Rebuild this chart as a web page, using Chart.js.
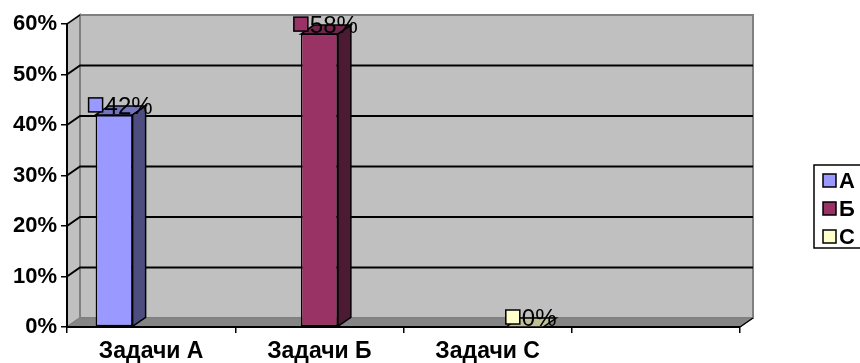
<!DOCTYPE html>
<html>
<head>
<meta charset="utf-8">
<script src="https://cdn.jsdelivr.net/npm/chart.js@4"></script>
<style>
  html, body { margin: 0; padding: 0; background: #fff; }
</style>
</head>
<body>
<canvas id="Graphic" width="860" height="363"></canvas>
<script>
// categories (4th slot is empty in the original)
const categories = ['Задачи А', 'Задачи Б', 'Задачи С', ''];
const seriesNames = ['А', 'Б', 'С'];
// percent values, one series per task group
const valuesA = [42, null, null, null];
const valuesB = [null, 58, null, null];
const valuesC = [null, null, 0, null];
const yTicks = [0, 10, 20, 30, 40, 50, 60];

const fronts = ['#9999FF', '#993366', '#FFFFCC'];
const tops = ['#7373BF', '#73264D', '#BFBF99'];
const sides = ['#4D4D80', '#4D1A33', '#80806A'];
const FONT = 'Liberation Sans, Arial, sans-serif';
const DX = 13, DY = -9;

function poly(ctx, pts, fill, stroke, lw) {
    ctx.beginPath();
    ctx.moveTo(pts[0][0], pts[0][1]);
    for (let i = 1; i < pts.length; i++) ctx.lineTo(pts[i][0], pts[i][1]);
    ctx.closePath();
    if (fill) { ctx.fillStyle = fill; ctx.fill(); }
    if (stroke) { ctx.strokeStyle = stroke; ctx.lineWidth = lw || 1; ctx.stroke(); }
}

const walls = {
    id: 'walls',
    beforeDraw(chart) {
        const ctx = chart.ctx;
        const a = chart.chartArea;
        const y = chart.scales.y;
        ctx.save();
        // back wall
        poly(ctx, [[a.left + DX, a.top + DY], [a.right + DX, a.top + DY], [a.right + DX, a.bottom + DY], [a.left + DX, a.bottom + DY]], '#C0C0C0', '#808080', 2);
        // side wall
        poly(ctx, [[a.left, a.top], [a.left + DX, a.top + DY], [a.left + DX, a.bottom + DY], [a.left, a.bottom]], '#C0C0C0', '#808080', 2);
        // floor
        poly(ctx, [[a.left, a.bottom], [a.left + DX, a.bottom + DY], [a.right + DX, a.bottom + DY], [a.right, a.bottom]], '#858585', '#808080', 1);
        // gridlines on the walls
        ctx.strokeStyle = '#000';
        ctx.lineWidth = 2;
        yTicks.forEach(v => {
            if (v === 0 || v === 60) return;
            const py = y.getPixelForValue(v);
            ctx.beginPath();
            ctx.moveTo(a.left, py);
            ctx.lineTo(a.left + DX, py + DY);
            ctx.lineTo(a.right + DX, py + DY);
            ctx.stroke();
        });
        ctx.lineWidth = 1.5;
        ctx.beginPath();
        ctx.moveTo(a.left, a.top);
        ctx.lineTo(a.left + DX, a.top + DY);
        ctx.moveTo(a.right, a.bottom);
        ctx.lineTo(a.right + DX, a.bottom + DY);
        ctx.stroke();
        ctx.restore();
    },
    afterDatasetsDraw(chart) {
        const ctx = chart.ctx;
        ctx.save();
        chart.data.datasets.forEach((ds, di) => {
            const meta = chart.getDatasetMeta(di);
            meta.data.forEach((bar, i) => {
                if (ds.data[i] === null) return;
                const l = bar.x - bar.width / 2, r = bar.x + bar.width / 2;
                poly(ctx, [[l, bar.y], [l + DX, bar.y + DY], [r + DX, bar.y + DY], [r, bar.y]], tops[di], '#000', 1.5);
                if (bar.base - bar.y > 0.5) {
                    poly(ctx, [[r, bar.y], [r + DX, bar.y + DY], [r + DX, bar.base + DY], [r, bar.base]], sides[di], '#000', 1.5);
                }
            });
        });
        ctx.restore();
    },
    afterDraw(chart) {
        const ctx = chart.ctx;
        ctx.save();
        // data labels with legend keys
        ctx.font = '24px ' + FONT;
        ctx.textBaseline = 'middle';
        chart.data.datasets.forEach((ds, di) => {
            const meta = chart.getDatasetMeta(di);
            meta.data.forEach((bar, i) => {
                if (ds.data[i] === null) return;
                const txt = ds.data[i] + '%';
                const w = ctx.measureText(txt).width;
                const total = 14 + 2 + w;
                const cx = bar.x + DX / 2, cy = bar.y + DY - 1;
                const sx = cx - total / 2;
                ctx.fillStyle = fronts[di];
                ctx.fillRect(sx, cy - 7, 14, 14);
                ctx.strokeStyle = '#000';
                ctx.lineWidth = 1.5;
                ctx.strokeRect(sx, cy - 7, 14, 14);
                ctx.fillStyle = '#000';
                ctx.textAlign = 'left';
                ctx.fillText(txt, sx + 16, cy + 2);
            });
        });
        // legend
        ctx.strokeStyle = '#000';
        ctx.lineWidth = 1.5;
        ctx.strokeRect(814, 165, 60, 83);
        ctx.font = 'bold 22px ' + FONT;
        seriesNames.forEach((n, k) => {
            const cy = 181 + k * 28;
            ctx.fillStyle = fronts[k];
            ctx.fillRect(823, cy - 7, 13, 13);
            ctx.strokeRect(823, cy - 7, 13, 13);
            ctx.fillStyle = '#000';
            ctx.fillText(n, 839, cy + 1);
        });
        ctx.restore();
    }
};

const datasets = [valuesA, valuesB, valuesC].map((vals, k) => ({
    label: seriesNames[k],
    data: vals,
    backgroundColor: fronts[k],
    borderColor: '#000',
    borderWidth: 1.5,
    borderSkipped: false,
    categoryPercentage: 0.66,
    barPercentage: 1.0
}));

new Chart(document.getElementById('Graphic').getContext('2d'), {
    type: 'bar',
    data: { labels: categories, datasets: datasets },
    plugins: [walls],
    options: {
        responsive: false,
        animation: false,
        layout: { padding: { left: 0, top: 24, right: 120, bottom: 0 } },
        plugins: { legend: { display: false }, tooltip: { enabled: false } },
        scales: {
            x: {
                grid: { offset: true, drawOnChartArea: false, drawTicks: true, tickLength: 6, color: '#000', lineWidth: 1.5 },
                border: { display: true, color: '#000', width: 2 },
                ticks: { color: '#000', font: { family: FONT, size: 23, weight: 'bold' }, padding: 5, maxRotation: 0, autoSkip: false },
                afterFit(s) { s.height = 36; }
            },
            y: {
                min: 0,
                max: 60,
                grid: { drawOnChartArea: false, drawTicks: true, tickLength: 6, color: '#000', lineWidth: 1.5 },
                border: { display: true, color: '#000', width: 2 },
                ticks: { stepSize: 10, color: '#000', padding: 4, font: { family: FONT, size: 22, weight: 'bold' }, callback: v => v + '%' },
                afterFit(s) { s.width = 67; }
            }
        }
    }
});
</script>
</body>
</html>
